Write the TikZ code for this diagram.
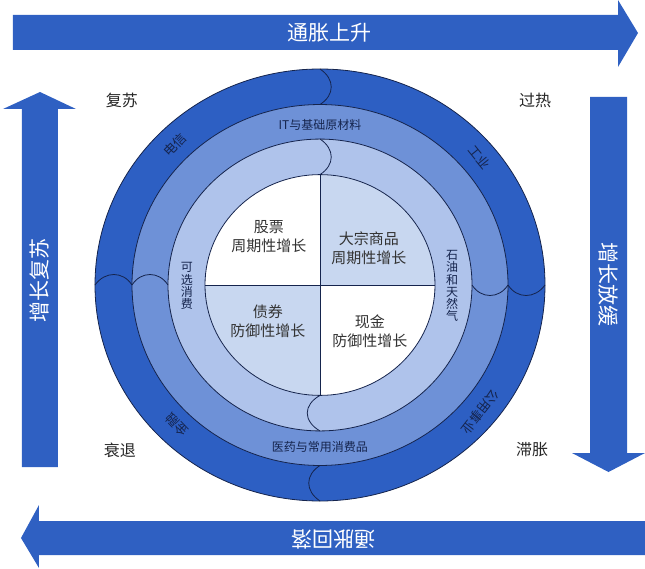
\documentclass[tikz,border=0pt]{standalone}
\usepackage{fontspec}
\setmainfont{Noto Sans CJK SC}
\definecolor{ringA}{HTML}{2D5FC3}
\definecolor{ringB}{HTML}{6E91D7}
\definecolor{ringC}{HTML}{AFC3EB}
\definecolor{quadlight}{HTML}{C8D7F0}
\definecolor{edgeblue}{HTML}{15244D}
\definecolor{arrowblue}{HTML}{2F60C2}

\begin{document}
\begin{tikzpicture}[x=1pt, y=1pt,
  ringtext/.style={text=edgeblue, font=\fontsize{12}{12.2}\selectfont, align=center, inner sep=0pt},
  quadtext/.style={text=black!80, font=\fontsize{15}{19}\selectfont, align=center},
  phase/.style={text=black!85, font=\fontsize{16}{18}\selectfont},
  arrowtext/.style={text=white, font=\fontsize{21}{24}\selectfont}]
  \useasboundingbox (-320,-283) rectangle (325,285);

  % the four arrows
  \fill[arrowblue] (-307,270) -- (298,270) -- (298,285) -- (318,252)
    -- (298,218) -- (298,235) -- (-307,235) -- cycle;
  \fill[arrowblue] (325,-236) -- (-281,-236) -- (-281,-220) -- (-299,-253)
    -- (-281,-283) -- (-281,-270) -- (325,-270) -- cycle;
  \fill[arrowblue] (-298,-182) -- (-298,176) -- (-317,176) -- (-280,193)
    -- (-244,176) -- (-262,176) -- (-262,-182) -- cycle;
  \fill[arrowblue] (270,188) -- (270,-168) -- (252,-168) -- (288.5,-187)
    -- (325,-168) -- (307,-168) -- (307,188) -- cycle;

  \node[arrowtext] (up) at (10,252) {通胀上升};
  \node[arrowtext, rotate=180] (down) at (13,-254) {通胀回落};
  \node[arrowtext, rotate=90] (grow) at (-280,5) {增长复苏};
  \node[arrowtext, rotate=-90] (slow) at (288,1) {增长放缓};

  % rings
  \foreach \r/\c in {225/ringA, 188/ringB, 152/ringC} {
    \draw[edgeblue, fill=\c, line width=0.8pt] (0,0) ellipse ({\r} and {0.96*\r});
  }
  \fill[white] (0,0) ellipse (115 and 110.4);
  \begin{scope}
    \clip (0,0) ellipse (115 and 110.4);
    \fill[quadlight] (0,0) rectangle (120,120);
    \fill[quadlight] (0,0) rectangle (-120,-120);
  \end{scope}
  \draw[edgeblue, line width=0.8pt] (0,0) ellipse (115 and 110.4);
  \draw[edgeblue, line width=0.8pt] (-115,0) -- (115,0);
  \draw[edgeblue, line width=0.8pt] (0,110.4) -- (0,-110.4);

  % wavy dividers
  \draw[edgeblue, line width=0.8pt] (0,216) .. controls (15,206) and (15,190) .. (0,180.5);
  \draw[edgeblue, line width=0.8pt] (0,146) .. controls (15,136) and (15,120) .. (0,110.4);
  \draw[edgeblue, line width=0.8pt] (0,-180.5) .. controls (-15,-190) and (-15,-206) .. (0,-216);
  \draw[edgeblue, line width=0.8pt] (0,-110.4) .. controls (-17,-120) and (-17,-136) .. (0,-146);
  \draw[edgeblue, line width=0.8pt] (-225,0) .. controls (-215,14) and (-197,14) .. (-188,0);
  \draw[edgeblue, line width=0.8pt] (-188,0) .. controls (-179,14) and (-161,14) .. (-152,0);
  \draw[edgeblue, line width=0.8pt] (152,0) .. controls (161,-14) and (179,-14) .. (188,0);
  \draw[edgeblue, line width=0.8pt] (188,0) .. controls (197,-14) and (215,-14) .. (225,0);

  % sectors
  \node[ringtext, font=\fontsize{13}{13}\selectfont, rotate=46] (tele) at (-145,140) {电信};
  \node[ringtext, font=\fontsize{13}{13}\selectfont, rotate=-51] (indu) at (160,128) {工业};
  \node[ringtext, font=\fontsize{13}{13}\selectfont, rotate=-128] (util) at (160,-127) {公用事业};
  \node[ringtext, font=\fontsize{13}{13}\selectfont, rotate=134] (fin) at (-143,-140) {金融};
  \node[ringtext] (itbasic) at (0,160) {IT与基础原材料};
  \node[ringtext] (pharma) at (0,-162) {医药与常用消费品};
  \node[ringtext] (optcons) at (-133,-1) {可\\选\\消\\费};
  \node[ringtext] (oilgas) at (132,-1) {石\\油\\和\\天\\然\\气};

  % assets
  \node[quadtext] (stock) at (-51,48) {股票\\周期性增长};
  \node[quadtext] (commod) at (49,37) {大宗商品\\周期性增长};
  \node[quadtext] (bond) at (-52,-36) {债券\\防御性增长};
  \node[quadtext] (cash) at (50,-46) {现金\\防御性增长};

  % phases
  \node[phase] (recov) at (-198,185) {复苏};
  \node[phase] (heat) at (215,185) {过热};
  \node[phase] (reces) at (-200,-165) {衰退};
  \node[phase] (stagf) at (212,-165) {滞胀};

\end{tikzpicture}
\end{document}
